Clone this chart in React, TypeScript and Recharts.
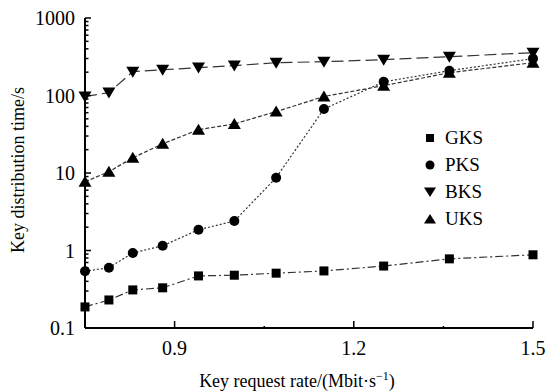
import React from 'react'
import { LineChart, Line, XAxis, YAxis, Legend, Label } from 'recharts'

// key request rate (Mbit/s)
const rates = [0.75, 0.79, 0.83, 0.88, 0.94, 1.0, 1.07, 1.15, 1.25, 1.36, 1.5]
// key distribution time (s)
const gks = [0.187, 0.23, 0.31, 0.33, 0.47, 0.48, 0.51, 0.545, 0.63, 0.78, 0.88]
const pks = [0.54, 0.6, 0.93, 1.15, 1.85, 2.4, 8.7, 67, 150, 209, 299]
const bks = [97, 109, 203, 215, 229, 243, 265, 273, 290, 317, 357]
const uks = [7.7, 10.4, 15.7, 23.8, 36.2, 43, 62, 97, 134, 197, 265]

const xTicks = [0.9, 1.05, 1.2, 1.35, 1.5]
const xLabelled = [0.9, 1.2, 1.5]
const yMajor = [0.1, 1, 10, 100, 1000]
const yMinorSteps = [2, 3, 4, 5, 6, 7, 8, 9]

const yMinor = yMajor.slice(0, -1).flatMap((d) => yMinorSteps.map((m) => d * m))
const yTicks = [...yMajor, ...yMinor].sort((a, b) => a - b)

const data = rates.map((r, i) => ({ rate: r, GKS: gks[i], PKS: pks[i], BKS: bks[i], UKS: uks[i] }))

const FONT = 'Liberation Serif, Times New Roman, Times, serif'
const INK = '#000'
const LINE = '#333'

type Shape = 'square' | 'circle' | 'down' | 'up'

function Marker({ cx, cy, shape }: { cx: number; cy: number; shape: Shape }) {
  if (cx == null || cy == null) return null
  if (shape === 'square') return <rect x={cx - 4.5} y={cy - 4.5} width={9} height={9} fill={INK} />
  if (shape === 'circle') return <circle cx={cx} cy={cy} r={5} fill={INK} />
  if (shape === 'down')
    return <polygon points={`${cx - 6.5},${cy - 5} ${cx + 6.5},${cy - 5} ${cx},${cy + 6}`} fill={INK} />
  return <polygon points={`${cx - 6.5},${cy + 5} ${cx + 6.5},${cy + 5} ${cx},${cy - 6}`} fill={INK} />
}

const series: { key: string; shape: Shape; dash: string }[] = [
  { key: 'GKS', shape: 'square', dash: '8 3 2 3' },
  { key: 'PKS', shape: 'circle', dash: '2 2' },
  { key: 'BKS', shape: 'down', dash: '12 5' },
  { key: 'UKS', shape: 'up', dash: '4 2' },
]

function YTick(props: any) {
  const { x, y, payload } = props
  const axisX = x + 10
  const major = yMajor.includes(payload.value)
  return (
    <g>
      <line x1={axisX} x2={axisX + (major ? 6 : 3.5)} y1={y} y2={y} stroke={INK} strokeWidth={1.5} />
      {major && (
        <text x={x} y={y} dy="0.35em" textAnchor="end" fontSize={20} fontFamily={FONT} fill={INK}>
          {payload.value}
        </text>
      )}
    </g>
  )
}

function XTick(props: any) {
  const { x, y, payload } = props
  const axisY = y - 8
  const major = xLabelled.includes(payload.value)
  return (
    <g>
      <line x1={x} x2={x} y1={axisY} y2={axisY - (major ? 7 : 2)} stroke={INK} strokeWidth={1.5} />
      {major && (
        <text x={x} y={axisY + 27} textAnchor="middle" fontSize={20} fontFamily={FONT} fill={INK}>
          {payload.value}
        </text>
      )}
    </g>
  )
}

function LegendBox() {
  return (
    <div style={{ fontFamily: FONT, fontSize: 19, color: INK }}>
      {series.map((s) => (
        <div key={s.key} style={{ display: 'flex', alignItems: 'center', height: 27 }}>
          <svg width={16} height={16} style={{ marginRight: 7 }}>
            {s.shape === 'square' && <rect x={4} y={4} width={8} height={8} fill={INK} />}
            {s.shape === 'circle' && <circle cx={8} cy={8} r={4.5} fill={INK} />}
            {s.shape === 'down' && <polygon points="2,3.5 14,3.5 8,13" fill={INK} />}
            {s.shape === 'up' && <polygon points="2,12.5 14,12.5 8,3" fill={INK} />}
          </svg>
          <span>{s.key}</span>
        </div>
      ))}
    </div>
  )
}

export default function App() {
  return (
    <div style={{ position: 'absolute', left: 0, top: 0, width: 551, height: 392, background: '#fff' }}>
      <LineChart width={551} height={392} data={data} margin={{ top: 18, right: 18, bottom: 0, left: 20 }}>
        <XAxis
          dataKey="rate"
          type="number"
          domain={[0.75, 1.5]}
          ticks={xTicks}
          interval={0}
          height={64}
          tickSize={0}
          tickMargin={8}
          tick={<XTick />}
          axisLine={{ stroke: INK, strokeWidth: 2 }}
          tickLine={false}
        >
          <Label
            content={(p: any) => {
              const vb = p.viewBox
              return (
                <text x={vb.x + vb.width / 2 - 12} y={vb.y + 59} textAnchor="middle" fontSize={18} fontFamily={FONT} fill={INK}>
                  Key request rate/(Mbit·s
                  <tspan fontSize={12} dy={-7}>−1</tspan>
                  <tspan dy={7}>)</tspan>
                </text>
              )
            }}
          />
        </XAxis>
        <YAxis
          scale="log"
          domain={[0.1, 1000]}
          ticks={yTicks}
          interval={0}
          width={65}
          tickSize={0}
          tickMargin={10}
          tick={<YTick />}
          axisLine={{ stroke: INK, strokeWidth: 2 }}
          tickLine={false}
        >
          <Label
            content={(p: any) => {
              const vb = p.viewBox
              const cx = vb.x - 20 + 24
              const cy = vb.y + vb.height / 2 - 3
              return (
                <text
                  x={cx}
                  y={cy}
                  transform={`rotate(-90 ${cx} ${cy})`}
                  textAnchor="middle"
                  fontSize={18}
                  fontFamily={FONT}
                  fill={INK}
                >
                  Key distribution time/s
                </text>
              )
            }}
          />
        </YAxis>
        <Legend
          layout="vertical"
          verticalAlign="middle"
          align="center"
          wrapperStyle={{ left: 422, top: 124, width: 110 }}
          content={() => <LegendBox />}
        />
        {series.map((s) => (
          <Line
            key={s.key}
            dataKey={s.key}
            type="linear"
            stroke={LINE}
            strokeWidth={1.2}
            strokeDasharray={s.dash}
            isAnimationActive={false}
            dot={(p: any) => <Marker key={`${s.key}-${p.index}`} cx={p.cx} cy={p.cy} shape={s.shape} />}
            activeDot={false}
          />
        ))}
      </LineChart>
    </div>
  )
}
